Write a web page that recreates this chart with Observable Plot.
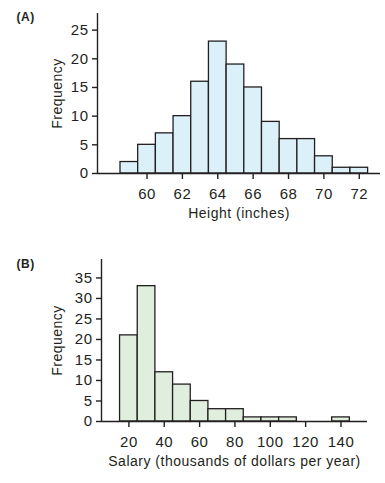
<!DOCTYPE html>
<html><head><meta charset="utf-8">
<script src="https://cdn.jsdelivr.net/npm/d3@7"></script>
<script src="https://cdn.jsdelivr.net/npm/@observablehq/plot@0.6"></script>
<style>
body{margin:0;background:#fff;}
#c{width:385px;}
#c svg{display:block;}
</style></head><body><div id="c"></div>
<script>
// Panel A: heights (bin centres, width 1 inch)
const heightBins = [59, 60, 61, 62, 63, 64, 65, 66, 67, 68, 69, 70, 71, 72];
const heightCounts = [2, 5, 7, 10, 16, 23, 19, 15, 9, 6, 6, 3, 1, 1];
const heightTicks = [60, 62, 64, 66, 68, 70, 72];
const freqTicksA = [0, 5, 10, 15, 20, 25];

// Panel B: salaries (bin centres, width 10 thousand)
const salaryBins = [20, 30, 40, 50, 60, 70, 80, 90, 100, 110, 120, 130, 140];
const salaryCounts = [21, 33, 12, 9, 5, 3, 3, 1, 1, 1, 0, 0, 1];
const salaryTicks = [20, 40, 60, 80, 100, 120, 140];
const freqTicksB = [0, 5, 10, 15, 20, 25, 30, 35];

const ink = "#231f20";
const font = "Arial, 'Liberation Sans', sans-serif";

function hist({bins, counts, width, fill, xDomain, yDomain, xTicks, yTicks, xLabel, tag, height, margins, tagDx, tagDy, yLabelDx}) {
  const data = bins.map((b, i) => ({lo: b - width / 2, hi: b + width / 2, count: counts[i]})).filter(d => d.count > 0);
  return Plot.plot({
    width: 385,
    height,
    ...margins,
    style: {fontFamily: font, fontSize: "14px", color: ink, background: "#fff", letterSpacing: "0.5px"},
    x: {domain: xDomain},
    y: {domain: yDomain},
    marks: [
      Plot.rectY(data, {x1: "lo", x2: "hi", y: "count", fill, stroke: ink, strokeWidth: 1.3}),
      Plot.ruleY([0], {stroke: ink, strokeWidth: 1.4}),
      Plot.ruleX([xDomain[0]], {y1: yDomain[0], y2: yDomain[1], stroke: ink, strokeWidth: 1.4}),
      Plot.axisX({ticks: xTicks, tickSize: 6, tickPadding: 9, strokeWidth: 1.4, stroke: ink, fill: ink,
        fontSize: 15, label: null}),
      Plot.axisY({ticks: yTicks, tickSize: 5, tickPadding: 4, strokeWidth: 1.4, stroke: ink, fill: ink,
        fontSize: 15, label: null}),
      Plot.text([xLabel], {frameAnchor: "bottom", dy: 40.5, lineAnchor: "middle", fontSize: 14, fill: ink}),
      Plot.text(["Frequency"], {frameAnchor: "left", dx: yLabelDx, rotate: -90, textAnchor: "middle", lineAnchor: "middle", fontSize: 14, fill: ink}),
      Plot.text([tag], {frameAnchor: "top-left", dx: tagDx, dy: tagDy, fontWeight: "bold", fontSize: 12, fill: ink})
    ]
  });
}

const c = document.getElementById("c");
c.append(hist({
  bins: heightBins, counts: heightCounts, width: 1, fill: "#dcf0fa",
  xDomain: [57.2, 73.2], yDomain: [0, 27.9], xTicks: heightTicks, yTicks: freqTicksA,
  xLabel: "Height (inches)", tag: "(A)", height: 230,
  margins: {marginLeft: 97, marginRight: 5, marginTop: 13, marginBottom: 57},
  tagDx: -81, tagDy: -1, yLabelDx: -40
}));
c.append(hist({
  bins: salaryBins, counts: salaryCounts, width: 10, fill: "#dfeedd",
  xDomain: [4.5, 155], yDomain: [0, 39.5], xTicks: salaryTicks, yTicks: freqTicksB,
  xLabel: "Salary (thousands of dollars per year)", tag: "(B)", height: 253,
  margins: {marginLeft: 101, marginRight: 18, marginTop: 29, marginBottom: 62},
  tagDx: -85, tagDy: 0, yLabelDx: -44
}));
</script></body></html>
